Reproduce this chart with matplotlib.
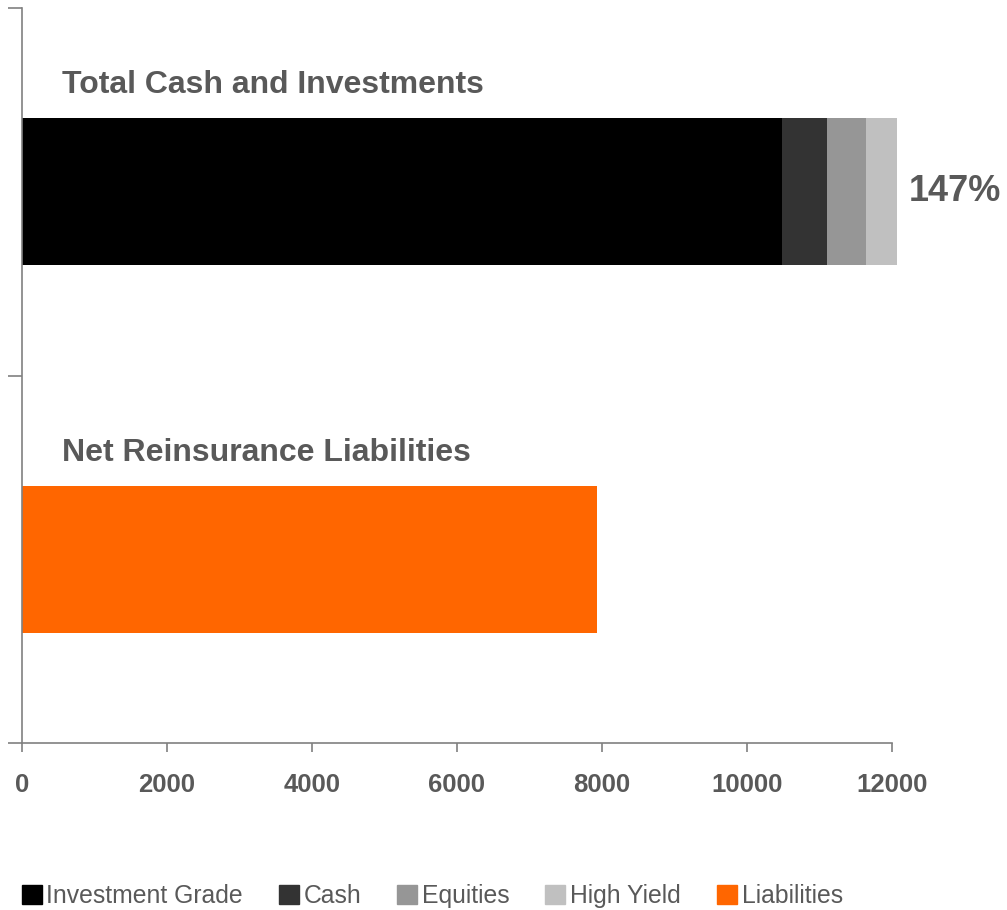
import matplotlib.pyplot as plt
from matplotlib.patches import Patch
from matplotlib.transforms import blended_transform_factory

plt.rcParams['font.family'] = ['Liberation Sans', 'DejaVu Sans']

# asset mix (top bar) and liabilities (bottom bar)
asset_names = ['Investment Grade', 'Cash', 'Equities', 'High Yield']
asset_values = [10480, 620, 540, 430]
asset_colors = ['#000000', '#333333', '#969696', '#c0c0c0']
liab_name = 'Liabilities'
liab_value = 7930
liab_color = '#ff6600'
bar_titles = ['Net Reinsurance Liabilities', 'Total Cash and Investments']
coverage_label = '147%'
xticks = [0, 2000, 4000, 6000, 8000, 10000, 12000]

text_grey = '#595959'
axis_grey = '#808080'

fig = plt.figure(figsize=(10.07, 9.10), dpi=100)
ax = fig.add_axes([0.0216, 0.1835, 0.8642, 0.8077])

h = 0.40
left = 0
for name, val, col in zip(asset_names, asset_values, asset_colors):
    ax.barh(1, val, left=left, height=h, color=col, label=name, clip_on=False)
    left += val
ax.barh(0, liab_value, height=h, color=liab_color, label=liab_name, clip_on=False)

ax.annotate(coverage_label, xy=(left, 1), xytext=(8.6, 0), textcoords='offset points',
            ha='left', va='center', fontsize=26, fontweight='bold', color=text_grey,
            annotation_clip=False)

trans = blended_transform_factory(ax.transAxes, ax.transData)
for ypos, title in enumerate(bar_titles):
    ax.text(0.0463, ypos + 0.29, title, transform=trans, ha='left', va='center',
            fontsize=23, fontweight='bold', color=text_grey)

ax.set_xlim(0, 12000)
ax.set_ylim(-0.5, 1.5)
ax.set_xticks(xticks)
ax.set_xticklabels([str(t) for t in xticks], fontsize=18.5, fontweight='bold', color=text_grey)
ax.set_yticks([-0.5, 0.5, 1.5])
ax.set_yticklabels([])
ax.tick_params(axis='x', length=6.5, width=1.2, color=axis_grey, pad=15)
ax.tick_params(axis='y', length=10, width=1.2, color=axis_grey)

for side in ['top', 'right']:
    ax.spines[side].set_visible(False)
for side in ['left', 'bottom']:
    ax.spines[side].set_color(axis_grey)
    ax.spines[side].set_linewidth(1.2)

handles = [Patch(color=c) for c in asset_colors + [liab_color]]
labels = asset_names + [liab_name]
leg = fig.legend(handles, labels, loc='center left', bbox_to_anchor=(0.0216, 0.015),
                 ncol=5, frameon=False, fontsize=17.8, borderpad=0, borderaxespad=0,
                 handlelength=0.8, handleheight=0.8, handletextpad=0.2, columnspacing=1.45)
for t in leg.get_texts():
    t.set_color(text_grey)

fig.savefig('out.png', dpi=100)
